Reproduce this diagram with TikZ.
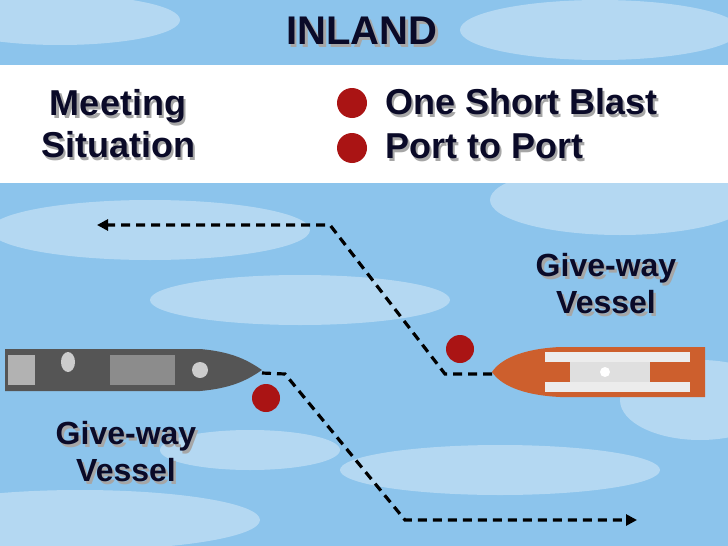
\documentclass[tikz,border=0pt]{standalone}
\usepackage{fontspec}
\setmainfont{Liberation Sans}
\usetikzlibrary{arrows.meta,shapes.geometric}
\definecolor{sky}{RGB}{140,196,236}
\definecolor{txt}{RGB}{10,10,40}
\definecolor{dotred}{RGB}{170,20,20}
\definecolor{hullg}{RGB}{85,85,85}
\definecolor{deckg}{RGB}{140,140,140}
\definecolor{orng}{RGB}{205,95,45}
\newcommand{\sh}[1]{\makebox[0pt][l]{\hspace{2.5pt}\raisebox{-2.5pt}{\color{gray!70}#1}}#1}
\tikzset{
  lab/.style={font=\bfseries\fontsize{36}{42}\selectfont, text=txt, align=center, inner sep=0},
  gw/.style={lab, font=\bfseries\fontsize{32}{37}\selectfont},
  dash path/.style={line width=3.2pt, dash pattern=on 9pt off 6pt, black},
  arr/.style={-{Triangle[length=11pt,width=11pt]}},
  rdot/.style={circle, fill=dotred, minimum size=28pt, inner sep=0},
  cloud/.style={fill=white, opacity=0.35}
}
\begin{document}
\begin{tikzpicture}[x=1pt,y=-1pt]
\useasboundingbox (0,0) rectangle (728,546);
\fill[sky] (0,0) rectangle (728,546);
\foreach \x/\y/\a/\b in {60/20/120/25, 600/30/140/30, 150/230/160/30, 620/200/130/35, 300/300/150/25, 80/520/180/30, 500/470/160/25, 700/400/80/40, 250/450/90/20}
  \fill[cloud] (\x,\y) ellipse ({\a} and {\b});
\fill[white] (0,65) rectangle (728,183);
\node[lab, font=\bfseries\fontsize{40}{46}\selectfont] (title) at (362,32) {\sh{INLAND}};
\node[lab] (meet) at (118,125) {\sh{Meeting}\\\sh{Situation}};
\node[rdot, minimum size=30pt] (d1) at (352,103) {};
\node[rdot, minimum size=30pt] (d2) at (352,148) {};
\node[lab, anchor=west] (osb) at (385,103) {\sh{One Short Blast}};
\node[lab, anchor=west] (ptp) at (385,148) {\sh{Port to Port}};
% ships
\fill[hullg] (5,349) -- (200,349) .. controls (235,352) and (250,362) .. (262,370) .. controls (250,378) and (235,388) .. (200,391) -- (5,391) -- cycle;
\fill[deckg] (110,355) rectangle (175,385);
\fill[gray!40] (68,362) ellipse (7 and 10);
\fill[gray!40] (200,370) circle (8);
\fill[gray!60] (8,355) rectangle (35,385);
\coordinate (gbow) at (262,373);
\fill[orng] (705,347) -- (560,347) .. controls (520,349) and (500,360) .. (492,372) .. controls (500,384) and (520,395) .. (560,397) -- (705,397) -- cycle;
\fill[gray!15] (545,352) rectangle (690,362);
\fill[gray!15] (545,382) rectangle (690,392);
\fill[gray!25] (570,362) rectangle (650,382);
\fill[white] (605,372) circle (5);
\coordinate (obow) at (492,374);
% paths
\coordinate (a1) at (445,374);
\coordinate (a2) at (330,225);
\coordinate (a3) at (97,225);
\draw[dash path, arr] (obow) -- (a1) -- (a2) -- (a3);
\coordinate (b1) at (285,374);
\coordinate (b2) at (405,520);
\coordinate (b3) at (637,520);
\draw[dash path, arr] (gbow) -- (b1) -- (b2) -- (b3);
\node[rdot] (r1) at (460,349) {};
\node[rdot] (r2) at (266,398) {};
\node[gw] (gw1) at (606,285) {\sh{Give-way}\\\sh{Vessel}};
\node[gw] (gw2) at (126,453) {\sh{Give-way}\\\sh{Vessel}};
\end{tikzpicture}
\end{document}
